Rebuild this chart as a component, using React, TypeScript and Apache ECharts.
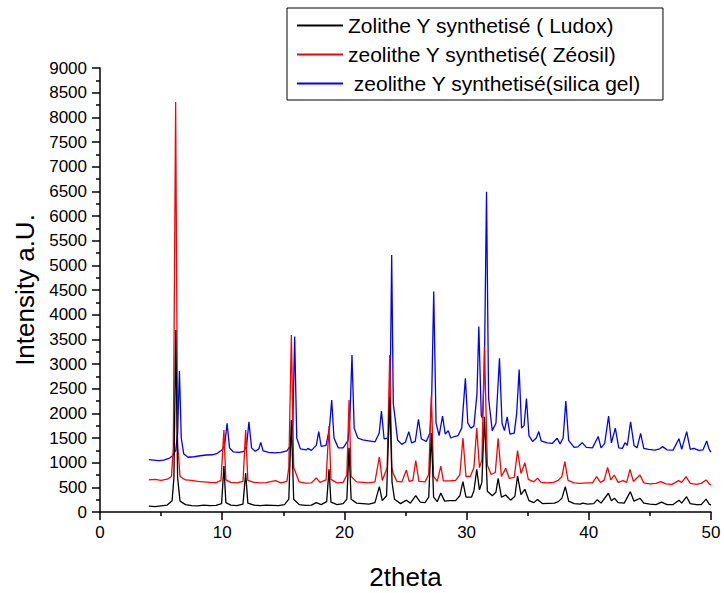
import React, { useEffect, useRef } from "react";
import * as echarts from "echarts";

const seriesNames = [
  "Zolithe Y synthetisé ( Ludox)",
  "zeolithe Y synthetisé( Zéosil)",
  " zeolithe Y synthetisé(silica gel)",
];
const seriesColors = ["#000000", "#ff0000", "#0000ff"];

const ludox: number[][] = [
  [4.0,120],[4.5,110],[5.0,125],[5.5,140],[5.9,230],[6.05,700],[6.2,3690],[6.35,700],[6.55,220],[7.0,150],[7.5,130],[8.0,125],[8.5,140],[9.0,130],[9.5,135],[9.95,170],[10.14,930],[10.3,190],[10.7,140],[11.2,130],[11.7,160],[11.92,790],[12.1,180],[12.6,140],[13.1,130],[13.6,140],[14.1,135],[14.6,130],[15.1,150],[15.45,260],[15.66,1865],[15.85,260],[16.3,150],[16.8,135],[17.3,140],[17.7,190],[18.1,150],[18.55,210],[18.74,865],[18.9,200],[19.4,150],[19.9,170],[20.2,260],[20.38,1300],[20.55,260],[21.0,180],[21.5,170],[22.0,160],[22.5,190],[22.86,515],[23.1,230],[23.45,330],[23.71,2330],[23.9,600],[24.1,260],[24.6,170],[25.07,240],[25.4,180],[25.84,330],[26.2,200],[26.6,190],[26.9,300],[27.12,1600],[27.3,300],[27.6,210],[27.89,385],[28.2,220],[28.6,230],[29.1,230],[29.45,330],[29.7,615],[29.95,300],[30.4,300],[30.6,430],[30.83,865],[31.05,450],[31.25,600],[31.46,1930],[31.7,420],[32.1,330],[32.4,400],[32.58,683],[32.85,300],[33.2,345],[33.6,240],[33.95,320],[34.17,730],[34.45,350],[34.77,460],[35.1,230],[35.5,190],[35.8,255],[36.2,170],[36.7,175],[37.2,180],[37.5,210],[37.8,280],[38.08,515],[38.35,220],[38.8,170],[39.3,160],[39.5,180],[39.9,160],[40.4,170],[40.7,250],[41.0,180],[41.6,380],[41.85,230],[42.1,280],[42.4,190],[42.9,180],[43.4,412],[43.7,220],[44.2,278],[44.5,180],[45.0,160],[45.5,150],[45.95,200],[46.4,150],[46.9,150],[47.38,240],[47.6,180],[48.0,310],[48.3,170],[48.8,150],[49.2,150],[49.6,260],[49.85,160],[50.0,140]
];

const zeosil: number[][] = [
  [4.0,650],[4.5,660],[5.0,640],[5.5,665],[5.85,720],[6.0,1300],[6.19,8310],[6.35,1400],[6.55,720],[7.0,650],[7.5,640],[8.0,620],[8.5,610],[9.0,600],[9.5,595],[9.9,640],[10.14,1660],[10.3,650],[10.7,600],[11.2,590],[11.7,620],[11.92,1660],[12.1,640],[12.6,600],[13.1,590],[13.6,595],[14.35,636],[14.8,590],[15.3,620],[15.45,900],[15.66,3590],[15.85,900],[16.3,610],[16.8,585],[17.3,590],[17.7,690],[18.0,600],[18.5,650],[18.74,1743],[18.9,660],[19.4,590],[19.9,600],[20.2,750],[20.38,2270],[20.55,720],[21.0,610],[21.5,600],[22.0,590],[22.5,610],[22.86,1120],[23.1,640],[23.5,900],[23.71,3180],[23.88,900],[24.0,780],[24.3,620],[24.7,610],[25.07,850],[25.3,620],[25.6,640],[25.84,1040],[26.1,620],[26.6,610],[26.9,760],[27.12,2370],[27.3,720],[27.6,620],[27.89,930],[28.1,630],[28.6,630],[29.1,640],[29.45,760],[29.7,1500],[29.95,720],[30.3,720],[30.6,900],[30.83,1700],[31.05,900],[31.25,1050],[31.46,3350],[31.7,950],[32.0,760],[32.35,800],[32.58,1495],[32.85,720],[33.2,885],[33.5,680],[33.9,700],[34.17,1245],[34.45,780],[34.77,1000],[35.05,660],[35.5,610],[35.8,683],[36.1,600],[36.6,590],[37.1,600],[37.5,640],[37.8,720],[38.04,1020],[38.3,640],[38.8,590],[39.3,580],[39.8,590],[40.3,590],[40.64,716],[40.95,600],[41.25,640],[41.54,905],[41.8,650],[42.08,750],[42.4,600],[42.8,635],[43.1,600],[43.37,865],[43.65,620],[44.19,750],[44.5,590],[45.0,570],[45.5,580],[45.9,615],[46.3,570],[46.8,560],[47.36,635],[47.6,600],[47.96,716],[48.3,580],[48.8,560],[49.2,580],[49.6,650],[49.85,570],[50.0,550]
];

const silicaGel: number[][] = [
  [4.0,1060],[4.4,1050],[4.8,1040],[5.2,1050],[5.6,1080],[5.9,1130],[6.2,1250],[6.35,1600],[6.5,2860],[6.65,1500],[6.85,1180],[7.2,1110],[7.7,1120],[8.2,1140],[8.7,1155],[9.2,1160],[9.6,1190],[10.0,1260],[10.2,1350],[10.4,1800],[10.6,1300],[10.9,1220],[11.4,1210],[11.8,1230],[12.0,1350],[12.19,1830],[12.4,1300],[12.7,1230],[13.0,1280],[13.15,1410],[13.35,1240],[13.8,1210],[14.3,1200],[14.8,1210],[15.3,1240],[15.6,1350],[15.78,1800],[15.93,3555],[16.1,1500],[16.4,1280],[16.9,1260],[17.0,1290],[17.3,1250],[17.7,1350],[17.9,1630],[18.1,1330],[18.5,1350],[18.78,1700],[18.96,2270],[19.15,1500],[19.5,1300],[19.9,1300],[20.3,1450],[20.45,1900],[20.62,3180],[20.8,1700],[21.1,1500],[21.5,1460],[22.0,1440],[22.5,1420],[22.85,1600],[23.03,2045],[23.25,1480],[23.6,1500],[23.75,2600],[23.87,5210],[24.0,2200],[24.15,1900],[24.35,1460],[24.7,1370],[25.0,1420],[25.27,1630],[25.5,1400],[25.8,1430],[26.06,1880],[26.3,1480],[26.7,1430],[27.0,1600],[27.15,2400],[27.31,4470],[27.5,1800],[27.75,1550],[28.03,1945],[28.25,1580],[28.5,1650],[28.7,1500],[29.0,1530],[29.3,1550],[29.6,1700],[29.9,2710],[30.1,1800],[30.35,1700],[30.6,1740],[30.85,2400],[31.0,3760],[31.2,1950],[31.3,1900],[31.45,2800],[31.63,6490],[31.8,2300],[32.1,1650],[32.4,1800],[32.69,3115],[32.9,1800],[33.1,1650],[33.32,1930],[33.55,1580],[33.9,1600],[34.1,2000],[34.3,2890],[34.5,1700],[34.7,1750],[34.9,2300],[35.1,1550],[35.4,1430],[35.7,1500],[35.91,1630],[36.1,1440],[36.6,1400],[37.0,1390],[37.41,1495],[37.65,1380],[37.9,1500],[38.12,2250],[38.35,1450],[38.8,1310],[39.1,1320],[39.46,1405],[39.8,1310],[40.3,1300],[40.77,1530],[41.0,1300],[41.3,1390],[41.62,1945],[41.85,1400],[42.17,1700],[42.45,1300],[42.75,1290],[42.96,1405],[43.15,1350],[43.42,1830],[43.7,1350],[43.95,1300],[44.24,1595],[44.5,1290],[44.9,1270],[45.4,1255],[45.8,1280],[46.04,1325],[46.4,1260],[46.9,1255],[47.38,1486],[47.6,1270],[48.01,1630],[48.3,1270],[48.6,1290],[49.0,1250],[49.35,1260],[49.65,1440],[49.85,1270],[50.0,1215]
];

const xTitle = "2theta";
const yTitle = "Intensity a.U.";

const FONT = "'Liberation Sans', Arial, sans-serif";

export default function App() {
  const ref = useRef<HTMLDivElement>(null);
  useEffect(() => {
    if (!ref.current) return;
    const chart = echarts.init(ref.current, undefined, { renderer: "svg" });
    const datasets = [ludox, zeosil, silicaGel];
    chart.setOption({
      animation: false,
      backgroundColor: "#ffffff",
      textStyle: { fontFamily: FONT },
      grid: { left: 100, right: 13, top: 68, bottom: 81, containLabel: false, outerBoundsMode: "none" },
      legend: {
        orient: "vertical",
        left: 287,
        top: 8,
        padding: [7, 22, 6, 10],
        borderColor: "#000",
        borderWidth: 1,
        backgroundColor: "#fff",
        itemWidth: 46,
        itemHeight: 2,
        itemGap: 8,
        icon: "rect",
        textStyle: { fontSize: 21, color: "#000", fontFamily: FONT },
        data: seriesNames.map((n, i) => ({ name: n, itemStyle: { color: seriesColors[i] } })),
      },
      xAxis: {
        type: "value",
        min: 0,
        max: 50,
        interval: 10,
        name: xTitle,
        nameLocation: "middle",
        nameGap: 52,
        nameTextStyle: { fontSize: 26, color: "#000", fontFamily: FONT },
        axisLine: { show: true, onZero: false, lineStyle: { color: "#000", width: 1.5 } },
        axisTick: { show: true, length: 8, lineStyle: { color: "#000", width: 1.5 } },
        minorTick: { show: true, splitNumber: 2, length: 4, lineStyle: { color: "#000", width: 1.5 } },
        axisLabel: { fontSize: 17, color: "#000", margin: 12, fontFamily: FONT, formatter: (v: number) => String(v) },
        splitLine: { show: false },
      },
      yAxis: {
        type: "value",
        min: 0,
        max: 9000,
        interval: 500,
        name: yTitle,
        nameLocation: "middle",
        nameGap: 62,
        nameTextStyle: { fontSize: 26, color: "#000", fontFamily: FONT },
        axisLine: { show: true, lineStyle: { color: "#000", width: 1.5 } },
        axisTick: { show: true, length: 8, lineStyle: { color: "#000", width: 1.5 } },
        minorTick: { show: true, splitNumber: 2, length: 4, lineStyle: { color: "#000", width: 1.5 } },
        axisLabel: { fontSize: 17, color: "#000", margin: 13, fontFamily: FONT, formatter: (v: number) => String(v) },
        splitLine: { show: false },
      },
      series: seriesNames.map((n, i) => ({
        name: n,
        type: "line",
        data: datasets[i],
        showSymbol: false,
        symbol: "none",
        color: seriesColors[i],
        itemStyle: { color: seriesColors[i] },
        lineStyle: { color: seriesColors[i], width: 1.3 },
        z: 3 - i,
      })),
    });
    return () => chart.dispose();
  }, []);
  return (
    <div
      ref={ref}
      style={{ position: "absolute", left: 0, top: 0, width: 724, height: 593 }}
    />
  );
}
